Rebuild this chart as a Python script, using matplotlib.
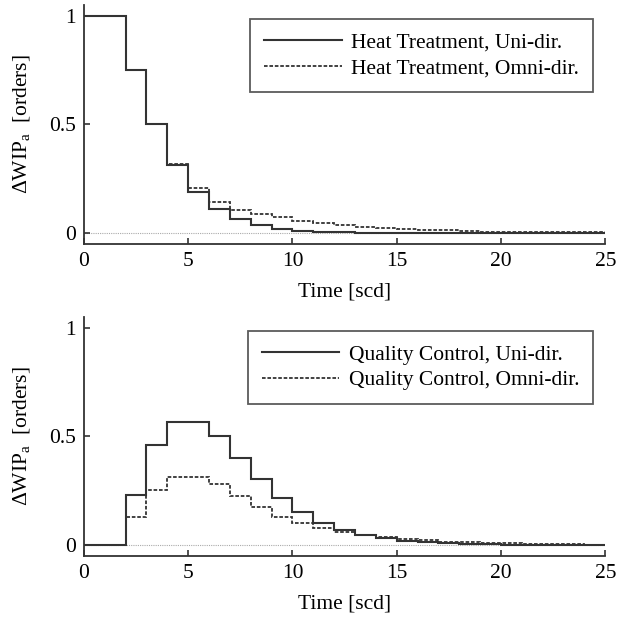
import numpy as np
import matplotlib
matplotlib.use("Agg")
import matplotlib.pyplot as plt

plt.rcParams['font.family'] = ['Liberation Serif', 'DejaVu Serif']
plt.rcParams['mathtext.fontset'] = 'custom'
plt.rcParams['mathtext.rm'] = 'Liberation Serif'
plt.rcParams['mathtext.it'] = 'Liberation Serif:italic'

# time edges in shop calendar days (one value per day)
edges = np.arange(0, 26)

# Heat Treatment
ht_uni = [1, 1, 0.75, 0.5, 0.313, 0.19, 0.109, 0.063, 0.036, 0.017, 0.009, 0.004,
          0.002, 0.001, 0.0005, 0, 0, 0, 0, 0, 0, 0, 0, 0, 0]
ht_omni = [1, 1, 0.75, 0.5, 0.318, 0.205, 0.141, 0.105, 0.088, 0.071, 0.055, 0.045,
           0.037, 0.029, 0.024, 0.017, 0.012, 0.011, 0.009, 0.006, 0.005, 0.004,
           0.003, 0.002, 0.002]

# Quality Control
qc_uni = [0, 0, 0.231, 0.461, 0.569, 0.569, 0.504, 0.400, 0.303, 0.215, 0.151, 0.103,
          0.069, 0.046, 0.030, 0.019, 0.012, 0.008, 0.005, 0.003, 0.002, 0.001,
          0.001, 0.0, 0.0]
qc_omni = [0, 0, 0.128, 0.254, 0.315, 0.315, 0.280, 0.226, 0.174, 0.131, 0.100, 0.080,
           0.061, 0.048, 0.036, 0.027, 0.021, 0.016, 0.012, 0.009, 0.007, 0.005,
           0.004, 0.003, 0.002]

panels = [
    (ht_uni, ht_omni, "Heat Treatment, Uni-dir.", "Heat Treatment, Omni-dir."),
    (qc_uni, qc_omni, "Quality Control, Uni-dir.", "Quality Control, Omni-dir."),
]

fig = plt.figure(figsize=(6.17, 6.2), dpi=100)
positions = [[0.136, 0.607, 0.845, 0.385], [0.136, 0.1035, 0.845, 0.385]]

fs = 15.5
line_col = '#333333'

for pos, (uni, omni, lab_uni, lab_omni) in zip(positions, panels):
    ax = fig.add_axes(pos)
    ax.axhline(0, color='#aaaaaa', lw=0.8, ls=(0, (1, 1)), zorder=1)
    ax.stairs(uni, edges, baseline=None, color=line_col, lw=1.5, label=lab_uni, zorder=3)
    ax.stairs(omni, edges, baseline=None, color=line_col, lw=1.3,
              ls=(0, (2, 1)), label=lab_omni, zorder=2)

    ax.set_xlim(0, 25)
    ax.set_ylim(-0.05, 1.05)
    ax.set_xticks([0, 5, 10, 15, 20, 25])
    ax.set_yticks([0, 0.5, 1])
    ax.set_yticklabels(['0', '0.5', '1'])
    ax.spines['top'].set_visible(False)
    ax.spines['right'].set_visible(False)
    for s in ['left', 'bottom']:
        ax.spines[s].set_color(line_col)
        ax.spines[s].set_linewidth(1.3)
    ax.tick_params(direction='in', length=4, width=1.2, color=line_col,
                   labelsize=fs, pad=6)
    ax.set_xlabel("Time [scd]", fontsize=fs, labelpad=8)
    ax.set_ylabel(r"$\Delta$WIP$_{\rm a}$  [orders]", fontsize=fs, labelpad=12)

    leg = ax.legend(loc='upper right', fontsize=fs, fancybox=False,
                    frameon=True, handlelength=3.6, handletextpad=0.45,
                    borderpad=0.65, labelspacing=0.25, borderaxespad=0,
                    bbox_to_anchor=(0.977, 0.943))
    leg.get_frame().set_edgecolor(line_col)
    leg.get_frame().set_linewidth(1.3)

fig.savefig("out.png", dpi=100)
